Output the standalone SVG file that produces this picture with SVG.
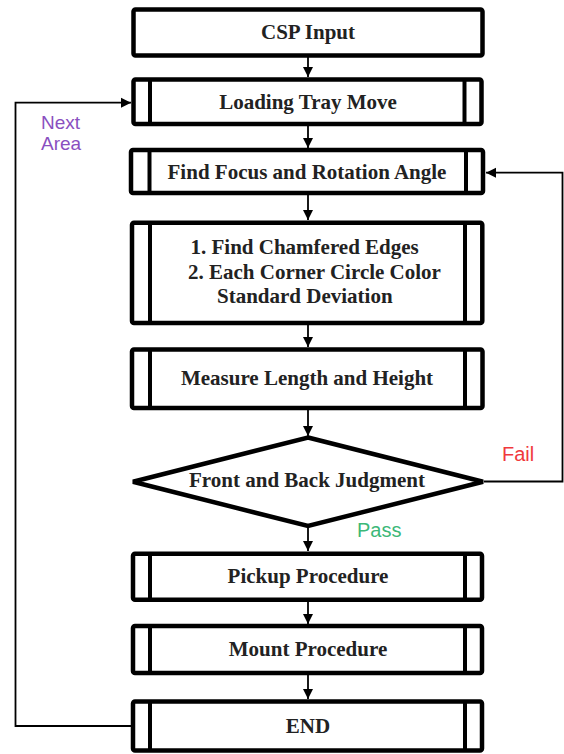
<svg xmlns="http://www.w3.org/2000/svg" width="564" height="754" viewBox="0 0 564 754">
<style>
.box{fill:#fff;stroke:#000;stroke-width:4.5}
.bar{stroke:#000;stroke-width:4}
.t{font-family:"Liberation Serif","Times New Roman",serif;font-weight:bold;font-size:21px;fill:#222;text-anchor:middle}
.ts{font-family:"Liberation Serif","Times New Roman",serif;font-weight:bold;font-size:21px;fill:#222}
.c{fill:none;stroke:#000;stroke-width:1.8}
.lbl{font-family:"Liberation Sans",Arial,sans-serif;font-size:19px}
</style>
<defs>
<marker id="ah" markerUnits="userSpaceOnUse" markerWidth="12" markerHeight="12" viewBox="0 0 12 12" refX="11" refY="6" orient="auto">
<path d="M1,1 L11,6 L1,11 Z" fill="#000"/>
</marker>
</defs>
<g id="connectors">
<path class="c" d="M308,57 V77" marker-end="url(#ah)"/>
<path class="c" d="M308,126 V148" marker-end="url(#ah)"/>
<path class="c" d="M308,195 V220" marker-end="url(#ah)"/>
<path class="c" d="M308,325 V347" marker-end="url(#ah)"/>
<path class="c" d="M308,410 V436" marker-end="url(#ah)"/>
<path class="c" d="M308,527 V551" marker-end="url(#ah)"/>
<path class="c" d="M308,602 V624" marker-end="url(#ah)"/>
<path class="c" d="M308,675 V699" marker-end="url(#ah)"/>
<path class="c" d="M484,481.5 H562.5 V172.7 H486" marker-end="url(#ah)"/>
<path class="c" d="M131,726 H15.5 V102.7 H131" marker-end="url(#ah)"/>
</g>
<g id="csp-input">
<rect class="box" x="133.5" y="9.5" width="349" height="46" rx="2"/>
<text class="t" x="308" y="39">CSP Input</text>
</g>
<g id="loading-tray-move">
<rect class="box" x="133.5" y="79.5" width="348" height="44.5" rx="2"/>
<line class="bar" x1="150" y1="79.5" x2="150" y2="124"/>
<line class="bar" x1="464.5" y1="79.5" x2="464.5" y2="124"/>
<text class="t" x="308" y="108.5">Loading Tray Move</text>
</g>
<g id="find-focus">
<rect class="box" x="131" y="150" width="352" height="43" rx="2"/>
<line class="bar" x1="149.5" y1="150" x2="149.5" y2="193"/>
<line class="bar" x1="466" y1="150" x2="466" y2="193"/>
<text class="t" x="307" y="178.5">Find Focus and Rotation Angle</text>
</g>
<g id="chamfered">
<rect class="box" x="132" y="222.7" width="350.3" height="100.3" rx="2"/>
<line class="bar" x1="150" y1="222.7" x2="150" y2="323"/>
<line class="bar" x1="465" y1="222.7" x2="465" y2="323"/>
<text class="ts" x="190.5" y="253.5">1. Find Chamfered Edges</text>
<text class="ts" x="188" y="278.5">2. Each Corner Circle Color</text>
<text class="ts" x="217" y="303">Standard Deviation</text>
</g>
<g id="measure">
<rect class="box" x="132" y="349.5" width="350.5" height="58.5" rx="2"/>
<line class="bar" x1="150" y1="349.5" x2="150" y2="408"/>
<line class="bar" x1="465" y1="349.5" x2="465" y2="408"/>
<text class="t" x="307" y="384.5">Measure Length and Height</text>
</g>
<g id="judgment">
<polygon class="box" points="308,437.5 483,481.7 308,526 133,481.7"/>
<text class="t" x="307" y="487">Front and Back Judgment</text>
</g>
<g id="pickup">
<rect class="box" x="133" y="553.7" width="349" height="46" rx="2"/>
<line class="bar" x1="150" y1="553.7" x2="150" y2="599.7"/>
<line class="bar" x1="465" y1="553.7" x2="465" y2="599.7"/>
<text class="t" x="308" y="583">Pickup Procedure</text>
</g>
<g id="mount">
<rect class="box" x="133" y="626" width="349" height="47" rx="2"/>
<line class="bar" x1="150" y1="626" x2="150" y2="673"/>
<line class="bar" x1="465" y1="626" x2="465" y2="673"/>
<text class="t" x="308" y="656">Mount Procedure</text>
</g>
<g id="end">
<rect class="box" x="133" y="701.5" width="349" height="49" rx="2"/>
<line class="bar" x1="150" y1="701.5" x2="150" y2="750.5"/>
<line class="bar" x1="465" y1="701.5" x2="465" y2="750.5"/>
<text class="t" x="308" y="733">END</text>
</g>
<g id="labels">
<text class="lbl" x="41" y="129" fill="#8a4fc0">Next</text>
<text class="lbl" x="41" y="150" fill="#8a4fc0">Area</text>
<text class="lbl" x="502" y="461" fill="#f0383c" style="font-size:20px">Fail</text>
<text class="lbl" x="357" y="537" fill="#3cb878" style="font-size:20px">Pass</text>
</g>
</svg>
